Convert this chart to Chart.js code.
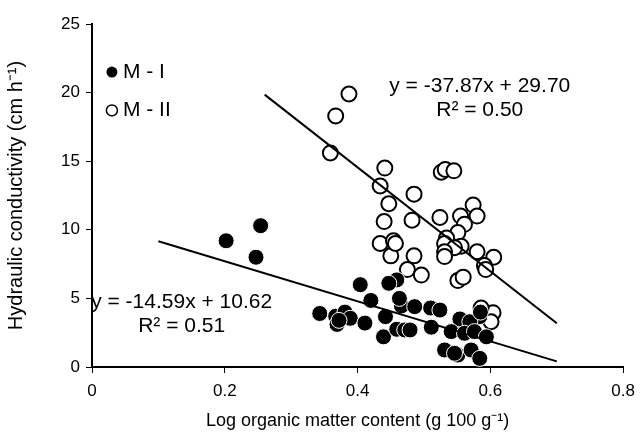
<!DOCTYPE html>
<html>
<head>
<meta charset="utf-8">
<script src="https://cdn.jsdelivr.net/npm/chart.js@4.4.1/dist/chart.umd.min.js"></script>
<style>
  body { margin: 0; background: #fff; }
  #wrap { width: 643px; height: 436px; }
</style>
</head>
<body>
<div id="wrap"><canvas id="grafico"></canvas></div>
<script>
// Parcela M - I (pontos cheios)
var xM1 = [0.202, 0.254, 0.247, 0.343, 0.367, 0.369, 0.381, 0.389, 0.411, 0.404,
           0.420, 0.442, 0.439, 0.459, 0.471, 0.479, 0.466, 0.463, 0.486, 0.510,
           0.511, 0.459, 0.447, 0.554, 0.584, 0.569, 0.541, 0.561, 0.576, 0.594,
           0.531, 0.551, 0.571, 0.584, 0.524, 0.546, 0.585, 0.372]
var yM1 = [9.2, 10.3, 8.0, 3.9, 3.7, 3.1, 4.0, 3.55, 3.2, 6.0,
           4.85, 3.67, 2.2, 2.75, 2.7, 2.7, 4.45, 5.0, 4.4, 4.3,
           2.9, 6.35, 6.1, 3.5, 3.67, 3.3, 2.58, 2.46, 2.58, 2.2,
           1.24, 0.87, 1.24, 0.63, 4.15, 1.0, 4.0, 3.4]

// Parcela M - II (pontos vazios)
var xM2 = [0.387, 0.367, 0.359, 0.441, 0.434, 0.526, 0.532, 0.545, 0.485, 0.447,
           0.574, 0.580, 0.555, 0.561, 0.524, 0.440, 0.482, 0.551, 0.534, 0.531,
           0.556, 0.546, 0.531, 0.531, 0.580, 0.605, 0.591, 0.593, 0.434, 0.454,
           0.450, 0.485, 0.475, 0.496, 0.551, 0.559, 0.604, 0.601, 0.586, 0.457]
var yM2 = [19.9, 18.3, 15.6, 14.5, 13.2, 14.2, 14.4, 14.3, 12.6, 11.9,
           11.8, 11.0, 11.0, 10.4, 10.9, 10.6, 10.7, 9.8, 9.4, 9.0,
           8.8, 8.7, 8.4, 8.05, 8.4, 8.0, 7.4, 7.1, 9.0, 9.2,
           8.1, 8.1, 7.1, 6.7, 6.3, 6.55, 3.96, 3.3, 4.3, 9.0]

// Linhas de tendência: inclinação, intercepto, faixa de x
var inclinacao = [-14.59, -37.87]
var intercepto = [10.62, 29.70]
var faixaX = [[0.1, 0.7], [0.26, 0.7]]
var textoR2 = ['R² = 0.51', 'R² = 0.50']

var nomes = ['M - I', 'M - II']
var ticksX = [0, 0.2, 0.4, 0.6, 0.8]
var ticksY = [0, 5, 10, 15, 20, 25]

var fonte = "'Liberation Sans', Arial, sans-serif"

function pontos(xs, ys) {
    var r = []
    for (var i = 0; i < xs.length; i++) {
        r.push({ x: xs[i], y: ys[i] })
    }
    return r
}

function tendencia(i) {
    return faixaX[i].map(function (x) {
        return { x: x, y: inclinacao[i] * x + intercepto[i] }
    })
}

function equacao(i) {
    var b = intercepto[i].toFixed(2)
    return 'y = ' + inclinacao[i].toFixed(2) + 'x + ' + b
}

// textos das equações e legenda dentro da área do gráfico
var textos = {
    id: 'textos',
    afterDatasetsDraw: function (chart) {
        var c = chart.ctx
        var sx = chart.scales.x
        var sy = chart.scales.y
        c.save()
        c.fillStyle = '#000'
        c.textBaseline = 'middle'
        c.textAlign = 'center'
        c.font = '21px ' + fonte
        c.fillText(equacao(1), sx.getPixelForValue(0.584), sy.getPixelForValue(20.5))
        c.fillText(textoR2[1], sx.getPixelForValue(0.584), sy.getPixelForValue(18.7))
        c.fillText(equacao(0), sx.getPixelForValue(0.135), sy.getPixelForValue(4.75))
        c.fillText(textoR2[0], sx.getPixelForValue(0.135), sy.getPixelForValue(2.95))

        // legenda
        var lx = sx.getPixelForValue(0.03)
        var ly = [sy.getPixelForValue(21.5), sy.getPixelForValue(18.7)]
        c.lineWidth = 1.5
        c.beginPath()
        c.arc(lx, ly[0], 5.5, 0, Math.PI * 2)
        c.fill()
        c.beginPath()
        c.arc(lx, ly[1], 5.5, 0, Math.PI * 2)
        c.fillStyle = '#fff'
        c.fill()
        c.strokeStyle = '#000'
        c.stroke()
        c.fillStyle = '#000'
        c.textAlign = 'left'
        c.font = '21px ' + fonte
        c.fillText(nomes[0], lx + 11, ly[0])
        c.fillText(nomes[1], lx + 11, ly[1])
        c.restore()
    }
}

const ctx = document.getElementById('grafico')

var grafico = new Chart(ctx, {
    type: 'scatter',
    data: {
        datasets: [{
            label: nomes[0],
            data: pontos(xM1, yM1),
            backgroundColor: '#000',
            borderColor: '#fff',
            borderWidth: 1,
            pointRadius: 8,
            order: 2
        }, {
            label: nomes[1],
            data: pontos(xM2, yM2),
            backgroundColor: '#fff',
            borderColor: '#000',
            borderWidth: 2,
            pointRadius: 7.5,
            order: 3
        }, {
            type: 'line',
            data: tendencia(0),
            borderColor: '#000',
            borderWidth: 2,
            pointRadius: 0,
            order: 0
        }, {
            type: 'line',
            data: tendencia(1),
            borderColor: '#000',
            borderWidth: 2,
            pointRadius: 0,
            order: 0
        }]
    },
    options: {
        responsive: true,
        maintainAspectRatio: false,
        animation: false,
        layout: { padding: { top: 24, right: 17, left: 0, bottom: 0 } },
        plugins: { legend: { display: false }, tooltip: { enabled: false } },
        scales: {
            x: {
                type: 'linear',
                min: 0,
                max: 0.8,
                afterBuildTicks: function (s) { s.ticks = ticksX.map(function (v) { return { value: v } }) },
                afterFit: function (s) { s.height = 69 },
                ticks: {
                    color: '#000',
                    font: { family: fonte, size: 17 },
                    padding: 8,
                    maxRotation: 0,
                    callback: function (v) { return String(v) }
                },
                grid: { drawOnChartArea: false, color: '#000', tickLength: 6, lineWidth: 1 },
                border: { color: '#000', width: 2 },
                title: {
                    display: true,
                    text: 'Log organic matter content (g 100 g⁻¹)',
                    color: '#000',
                    font: { family: fonte, size: 18 },
                    padding: { top: 11 }
                }
            },
            y: {
                min: 0,
                max: 25,
                afterBuildTicks: function (s) { s.ticks = ticksY.map(function (v) { return { value: v } }) },
                afterFit: function (s) { s.width = 92 },
                ticks: {
                    color: '#000',
                    font: { family: fonte, size: 17 },
                    padding: 6
                },
                grid: { drawOnChartArea: false, color: '#000', tickLength: 6, lineWidth: 1 },
                border: { color: '#000', width: 2 },
                title: {
                    display: true,
                    text: 'Hydraulic conductivity (cm h⁻¹)',
                    color: '#000',
                    font: { family: fonte, size: 20 },
                    padding: { bottom: 2 }
                }
            }
        }
    },
    plugins: [textos]
})
</script>
</body>
</html>
